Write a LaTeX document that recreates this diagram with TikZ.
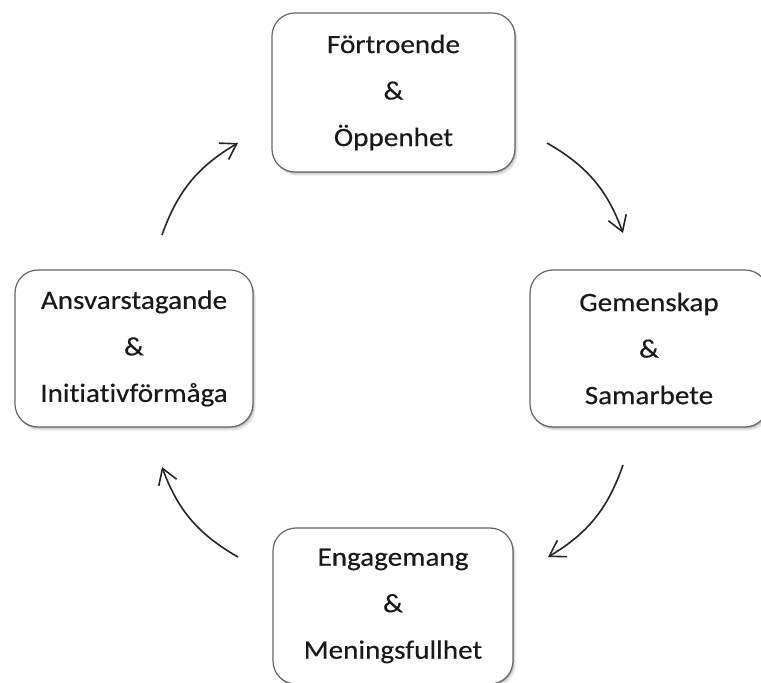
\documentclass[tikz,border=0pt]{standalone}
\usepackage{fontspec}
\setmainfont{Carlito}[FakeStretch=1.1,FakeBold=0.3,Ligatures={NoCommon}]
\usetikzlibrary{shadows,arrows.meta}
\begin{document}
\begin{tikzpicture}[x=1pt,y=1pt,
  card/.style={draw=black!60, line width=1.2pt, fill=white, rounded corners=23pt,
    align=center, inner sep=0pt, text=black!90,
    font=\fontsize{26.5}{46.5}\selectfont,
    drop shadow={shadow xshift=1pt,shadow yshift=-1.5pt,opacity=0.35,fill=black!60},
    drop shadow={shadow xshift=2.5pt,shadow yshift=-3.5pt,opacity=0.18,fill=black!60}},
  cyclearrow/.style={line width=1.6pt, draw=black!85,
    -{Straight Barb[length=15pt,width=19pt]}, bend left=20}]
  \useasboundingbox[fill=white] (0,0) rectangle (761,683);

  % the four boxes of the cycle
  \node[card, minimum width=243pt, minimum height=159pt] (trust) at (393.5,590.5)
    {Förtroende\\\&\\Öppenhet};
  \node[card, minimum width=238pt, minimum height=157pt] (team) at (649,334.5)
    {Gemenskap\\\&\\Samarbete};
  \node[card, minimum width=240pt, minimum height=156pt] (meaning) at (393,77)
    {Engagemang\\\&\\Meningsfullhet};
  \node[card, minimum width=238pt, minimum height=157pt] (resp) at (134,334.5)
    {Ansvarstagande\\\&\\Initiativförmåga};

  % arrow end points between the boxes
  \coordinate (a1s) at (162,448);  \coordinate (a1e) at (238,540);
  \coordinate (a2s) at (547,540);  \coordinate (a2e) at (623,450);
  \coordinate (a3s) at (623,218);  \coordinate (a3e) at (548,126);
  \coordinate (a4s) at (238,126);  \coordinate (a4e) at (162,216);

  \draw[cyclearrow] (a1s) to (a1e);
  \draw[cyclearrow] (a2s) to (a2e);
  \draw[cyclearrow] (a3s) to (a3e);
  \draw[cyclearrow] (a4s) to (a4e);
\end{tikzpicture}
\end{document}
